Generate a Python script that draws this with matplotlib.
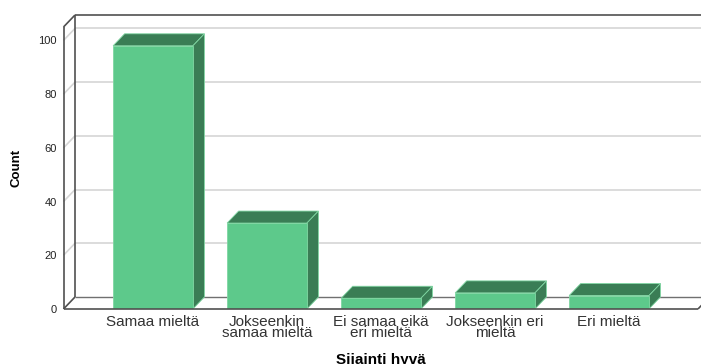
import matplotlib
matplotlib.use("Agg")
import matplotlib.pyplot as plt
from matplotlib.patches import Polygon

plt.rcParams["font.family"] = ["Liberation Sans", "DejaVu Sans"]

# Frequencies of answers to "Sijainti hyvä"
categories = ["Samaa mieltä", "Jokseenkin\nsamaa mieltä", "Ei samaa eikä\neri mieltä",
              "Jokseenkin eri\nmieltä", "Eri mieltä"]
counts = [98, 32, 4, 6, 5]
y_ticks = [0, 20, 40, 60, 80, 100]

FRONT = "#5DC98B"
DARK = "#3A7D55"
EDGE = "#7FD6A2"
GRID = "#d6d6d6"
FRAME = "#505050"

W, H, DPI = 701, 364, 100
fig = plt.figure(figsize=(W / DPI, H / DPI), dpi=DPI)

# Front plane of the 3D box (pixel extents converted to figure fractions)
left_px, right_px, bottom_px, top_px = 63.5, 698.0, 309.0, 27.0
ax = fig.add_axes([left_px / W, 1 - bottom_px / H,
                   (right_px - left_px) / W, (bottom_px - top_px) / H])
xl, xr = -0.785, 4.78
ymax = 105
ax.set_xlim(xl, xr)
ax.set_ylim(0, ymax)
for s in ax.spines.values():
    s.set_visible(False)

# Depth of the box, expressed in data units
depth_px_x, depth_px_y = 11.5, 12.0
dx = depth_px_x * (xr - xl) / (right_px - left_px)
dy = depth_px_y * ymax / (bottom_px - top_px)


def seg(x0, y0, x1, y1, color, lw=1.0, z=1):
    ax.plot([x0, x1], [y0, y1], color=color, lw=lw, zorder=z,
            clip_on=False, solid_capstyle="butt")


# Back wall and left wall gridlines
for t in y_ticks[1:]:
    seg(xl + dx, t + dy, xr + dx, t + dy, GRID, 1.2, 1)
    seg(xl, t, xl + dx, t + dy, GRID, 1.2, 1)

# Back floor edge and box outline
seg(xl + dx, dy, xr + dx, dy, "#707070", 1.0, 1.5)
seg(xl + dx, ymax + dy, xr + dx, ymax + dy, FRAME, 1.2, 2)
seg(xl + dx, dy, xl + dx, ymax + dy, FRAME, 1.2, 2)
seg(xl, 0, xl, ymax, FRAME, 1.2, 2)
seg(xl, ymax, xl + dx, ymax + dy, FRAME, 1.2, 2)
seg(xl, 0, xl + dx, dy, FRAME, 1.2, 2)
seg(xr, 0, xr + dx, dy, FRAME, 1.2, 2)

# Bars: front faces via ax.bar, then top and side faces
width = 0.70
xs = list(range(len(counts)))
bars = ax.bar(xs, counts, width=width, color=FRONT, edgecolor=EDGE,
              linewidth=0.6, zorder=4)
for b in bars:
    x0 = b.get_x()
    x1 = x0 + b.get_width()
    v = b.get_height()
    top = Polygon([(x0, v), (x1, v), (x1 + dx, v + dy), (x0 + dx, v + dy)],
                  closed=True, facecolor=DARK, edgecolor=EDGE, linewidth=0.6,
                  zorder=3, clip_on=False)
    side = Polygon([(x1, 0), (x1 + dx, dy), (x1 + dx, v + dy), (x1, v)],
                   closed=True, facecolor=DARK, edgecolor=EDGE, linewidth=0.6,
                   zorder=3, clip_on=False)
    ax.add_patch(top)
    ax.add_patch(side)

# Front floor edge
seg(xl, 0, xr, 0, FRAME, 1.2, 5)

# Axes text
ax.set_yticks(y_ticks)
ax.set_yticklabels([str(t) for t in y_ticks], fontsize=8, color="#222222")
ax.set_xticks(xs)
ax.set_xticklabels(categories, fontsize=11, color="#333333", linespacing=0.8)
ax.tick_params(axis="both", length=0)
ax.tick_params(axis="y", pad=5)
ax.tick_params(axis="x", pad=4)
ax.set_ylabel("Count", fontsize=9.5, fontweight="bold", va="center")
ax.yaxis.set_label_coords((17 - left_px) / (right_px - left_px), 0.5)
ax.set_xlabel("Sijainti hyvä", fontsize=11, fontweight="bold", labelpad=9)

fig.savefig("out.png", dpi=DPI)
